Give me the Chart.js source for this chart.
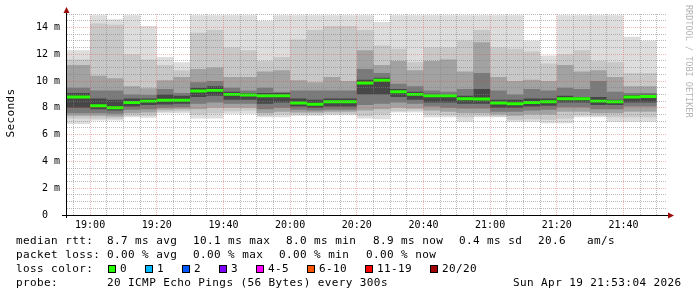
<!DOCTYPE html>
<html>
<head>
<meta charset="utf-8">
<script src="https://cdn.jsdelivr.net/npm/chart.js@4.4.1/dist/chart.umd.min.js"></script>
<style>
  html, body { margin: 0; padding: 0; background: #fff; }
  #wrap { width: 697px; height: 297px; }
</style>
</head>
<body>
<div id="wrap"><canvas id="smokeChart" width="697" height="297"></canvas></div>
<script>
// Graph time window
const graphStart = '18:53:04';
const graphEnd = '21:53:04';

// End time of each 5 minute bin (the first bin reaches back to the left edge)
const binEnds = [
  '19:00', '19:05', '19:10', '19:15', '19:20', '19:25', '19:30', '19:35', '19:40',
  '19:45', '19:50', '19:55', '20:00', '20:05', '20:10', '20:15', '20:20', '20:25',
  '20:30', '20:35', '20:40', '20:45', '20:50', '20:55', '21:00', '21:05', '21:10',
  '21:15', '21:20', '21:25', '21:30', '21:35', '21:40', '21:45', '21:50'
];

// Axis tick labels
const timeTicks = ['19:00', '19:20', '19:40', '20:00', '20:20', '20:40', '21:00', '21:20', '21:40'];
const yTickValues = [0, 2, 4, 6, 8, 10, 12, 14];
const yTickLabels = ['0  ', '2 m', '4 m', '6 m', '8 m', '10 m', '12 m', '14 m'];

// Smoke: ping rtt (ms) per bin, sorted pings grouped by rank pairs
const pingMax   = [12.3, 14.9, 14.6, 14.9, 14.1, 11.8, 11.4, 14.9, 14.9, 14.9, 14.9, 14.5, 14.9, 14.9, 14.9, 14.9, 14.9, 14.9, 14.4, 14.9, 14.9, 14.9, 14.9, 14.9, 14.9, 14.9, 14.9, 13.0, 11.9, 14.9, 14.9, 14.9, 14.9, 13.3, 13.0];
const outerHigh = [11.6, 14.3, 14.2, 12.0, 11.6, 11.2, 10.8, 13.6, 13.8, 12.5, 12.3, 11.5, 11.8, 13.1, 13.8, 14.1, 14.1, 13.8, 12.65, 12.4, 11.4, 12.5, 12.5, 13.0, 13.8, 12.5, 12.4, 12.2, 11.3, 12.0, 12.3, 11.5, 11.4, 10.6, 10.6];
const midHigh   = [11.2, 10.4, 10.2, 9.6, 9.45, 10.05, 10.3, 10.9, 11.0, 10.3, 10.3, 10.7, 10.8, 10.05, 9.9, 10.3, 10.0, 12.3, 11.2, 11.5, 10.8, 11.5, 11.6, 10.7, 12.9, 10.3, 10.0, 10.1, 10.0, 11.2, 10.7, 10.8, 10.3, 9.6, 9.6];
const innerHigh = [9.5, 9.3, 9.3, 9.0, 8.95, 9.4, 9.1, 9.9, 10.0, 9.5, 9.3, 9.5, 9.2, 9.3, 9.3, 9.3, 9.3, 10.9, 10.6, 9.8, 9.6, 9.3, 9.2, 9.4, 10.6, 9.3, 9.0, 9.4, 9.3, 9.5, 9.4, 10.0, 9.2, 9.1, 9.1];
const coreHigh  = [9.1, 8.7, 8.6, 8.7, 8.7, 9.0, 8.9, 9.5, 9.6, 9.2, 9.1, 9.1, 9.1, 8.7, 8.6, 8.7, 8.7, 10.1, 10.25, 9.4, 9.2, 9.05, 9.0, 8.9, 9.4, 8.6, 8.6, 8.7, 8.7, 8.9, 8.8, 8.8, 8.6, 8.95, 9.0];
const medianRtt = [8.8, 8.15, 8.0, 8.4, 8.5, 8.56, 8.56, 9.25, 9.3, 9.0, 8.95, 8.9, 8.9, 8.36, 8.26, 8.45, 8.45, 9.85, 10.05, 9.2, 9.0, 8.9, 8.9, 8.68, 8.66, 8.36, 8.3, 8.4, 8.45, 8.68, 8.68, 8.5, 8.45, 8.8, 8.85];
const coreLow   = [8.0, 7.9, 7.8, 8.1, 8.2, 8.25, 8.3, 8.8, 8.9, 8.6, 8.6, 8.3, 8.4, 8.1, 8.0, 8.1, 8.1, 9.0, 9.0, 8.8, 8.6, 8.4, 8.4, 8.3, 8.3, 8.0, 8.0, 8.1, 8.15, 8.4, 8.4, 8.2, 8.2, 8.4, 8.4];
const innerLow  = [7.6, 7.6, 7.55, 7.85, 7.9, 8.0, 8.05, 8.3, 8.4, 8.3, 8.3, 7.9, 8.0, 7.85, 7.8, 7.85, 7.85, 8.2, 8.3, 8.4, 8.3, 8.1, 8.0, 7.95, 7.95, 7.7, 7.7, 7.8, 7.85, 8.05, 8.05, 7.9, 7.9, 8.1, 8.1];
const midLow    = [7.4, 7.4, 7.35, 7.6, 7.65, 7.85, 7.9, 7.9, 8.0, 8.0, 8.0, 7.6, 7.7, 7.65, 7.65, 7.7, 7.7, 7.8, 7.9, 8.0, 7.95, 7.8, 7.7, 7.6, 7.6, 7.5, 7.4, 7.5, 7.5, 7.7, 7.7, 7.6, 7.6, 7.7, 7.7];
const outerLow  = [7.2, 7.2, 7.2, 7.4, 7.4, 7.7, 7.75, 7.5, 7.6, 7.75, 7.8, 7.4, 7.5, 7.5, 7.5, 7.55, 7.55, 7.4, 7.5, 7.75, 7.8, 7.5, 7.45, 7.3, 7.4, 7.35, 7.1, 7.15, 7.1, 7.2, 7.45, 7.4, 7.3, 7.3, 7.3];
const pingMin   = [6.8, 7.05, 7.05, 7.3, 7.25, 7.6, 7.6, 7.2, 7.2, 7.55, 7.55, 7.3, 7.3, 7.4, 7.4, 7.45, 7.45, 7.2, 7.15, 7.65, 7.65, 7.3, 7.3, 6.95, 7.3, 7.3, 6.95, 6.95, 6.85, 6.85, 7.3, 7.3, 6.95, 6.95, 6.95];

// Legend content
const statsRtt = ['8.7 ms avg', '10.1 ms max', '8.0 ms min', '8.9 ms now', '0.4 ms sd', '20.6', 'am/s'];
const statsLoss = ['0.00 % avg', '0.00 % max', '0.00 % min', '0.00 % now'];
const lossLabels = ['0', '1', '2', '3', '4-5', '6-10', '11-19', '20/20'];
const lossColors = ['#26ff00', '#00b8ff', '#0059ff', '#7e00ff', '#ff00ff', '#ff5500', '#ff0000', '#a10000'];
const probeText = '20 ICMP Echo Pings (56 Bytes) every 300s';
const stampText = 'Sun Apr 19 21:53:04 2026';

// Styling
const MONO = "'DejaVu Sans Mono', monospace";
const GRID = 'rgba(130,130,130,0.55)';
const MGRID = 'rgba(225,70,70,0.38)';
const ARROW = '#9c0a0a';
const MED_HALF = 0.11; // half thickness of the median bar, in ms

const toMin = (t) => {
  const p = t.split(':').map(Number);
  return p[0] * 60 + p[1] + (p[2] || 0) / 60;
};
const X_MIN = toMin(graphStart);
const X_MAX = toMin(graphEnd);
const majorX = timeTicks.map(toMin);

// grid every 5 minutes, every half ms
const xGrid = [];
for (let m = Math.ceil(X_MIN / 5) * 5; m <= X_MAX; m += 5) xGrid.push(m);
const yGrid = [];
for (let v = 0; v <= 15; v += 0.5) yGrid.push(v);

const stepData = (values) => {
  const pts = [{ x: X_MIN, y: values[0] }];
  values.forEach((v, i) => pts.push({ x: toMin(binEnds[i]), y: v }));
  return pts;
};

const bands = [
  [pingMin, pingMax, '#dddddd'],
  [outerLow, outerHigh, '#c8c8c8'],
  [midLow, midHigh, '#a2a2a2'],
  [innerLow, innerHigh, '#7a7a7a'],
  [coreLow, coreHigh, '#474747'],
  [medianRtt.map(v => v - MED_HALF), medianRtt.map(v => v + MED_HALF), '#26ff00']
];

const datasets = [];
bands.forEach(([lo, hi, color], j) => {
  const base = {
    stepped: 'after',
    pointRadius: 0,
    borderWidth: 0,
    borderColor: 'rgba(0,0,0,0)',
    order: 100 - j
  };
  datasets.push({ ...base, data: stepData(lo), fill: false });
  datasets.push({ ...base, data: stepData(hi), fill: 2 * j, backgroundColor: color });
});

// Axes, arrows, legend and side texts
const decorPlugin = {
  id: 'decor',
  afterDraw(chart) {
    const { ctx, chartArea: a } = chart;
    ctx.save();
    // axis lines
    ctx.strokeStyle = '#000';
    ctx.lineWidth = 1;
    ctx.beginPath();
    ctx.moveTo(62, a.bottom + 0.5);
    ctx.lineTo(a.right + 1, a.bottom + 0.5);
    ctx.moveTo(a.left - 0.5, a.bottom + 3);
    ctx.lineTo(a.left - 0.5, a.top - 1);
    ctx.stroke();
    // arrows
    ctx.fillStyle = ARROW;
    ctx.beginPath();
    ctx.moveTo(a.right + 1, a.bottom - 2.5);
    ctx.lineTo(a.right + 7, a.bottom + 0.5);
    ctx.lineTo(a.right + 1, a.bottom + 3.5);
    ctx.fill();
    ctx.beginPath();
    ctx.moveTo(a.left - 3.5, a.top - 1);
    ctx.lineTo(a.left - 0.5, a.top - 7);
    ctx.lineTo(a.left + 2.5, a.top - 1);
    ctx.fill();

    // y title
    ctx.fillStyle = '#000';
    ctx.font = '11px ' + MONO;
    ctx.letterSpacing = '0.4px';
    ctx.textBaseline = 'middle';
    ctx.textAlign = 'center';
    ctx.save();
    ctx.translate(11, 113);
    ctx.rotate(-Math.PI / 2);
    ctx.fillText('Seconds', 0, 0);
    ctx.restore();

    // watermark
    ctx.save();
    ctx.fillStyle = '#b4b4b4';
    ctx.font = '8.5px ' + MONO;
    ctx.letterSpacing = '0px';
    ctx.textAlign = 'left';
    ctx.translate(688, 5);
    ctx.rotate(Math.PI / 2);
    ctx.fillText('RRDTOOL / TOBI OETIKER', 0, 0);
    ctx.restore();

    // legend
    ctx.textAlign = 'left';
    const rows = [241, 255, 269, 283];
    ctx.fillText('median rtt:', 16, rows[0]);
    [107, 193, 286, 373, 459, 538, 587].forEach((x, i) => ctx.fillText(statsRtt[i], x, rows[0]));
    ctx.fillText('packet loss:', 16, rows[1]);
    [107, 193, 279, 366].forEach((x, i) => ctx.fillText(statsLoss[i], x, rows[1]));
    ctx.fillText('loss color:', 16, rows[2]);
    const boxX = [108, 145, 182, 219, 256, 307, 365, 430];
    boxX.forEach((x, i) => {
      ctx.fillStyle = lossColors[i];
      ctx.fillRect(x, rows[2] - 4, 8, 8);
      ctx.strokeStyle = '#000';
      ctx.strokeRect(x + 0.5, rows[2] - 3.5, 7, 7);
      ctx.fillStyle = '#000';
      ctx.fillText(lossLabels[i], x + 12, rows[2]);
    });
    ctx.fillText('probe:', 16, rows[3]);
    ctx.fillText(probeText, 107, rows[3]);
    ctx.fillText(stampText, 513, rows[3]);
    ctx.restore();
  }
};

new Chart(document.getElementById('smokeChart'), {
  type: 'line',
  data: { datasets },
  options: {
    responsive: false,
    animation: false,
    devicePixelRatio: 1,
    layout: { padding: { top: 14, right: 30, left: 0, bottom: 0 } },
    plugins: { legend: { display: false }, tooltip: { enabled: false } },
    scales: {
      x: {
        type: 'linear',
        min: X_MIN,
        max: X_MAX,
        afterBuildTicks: (axis) => { axis.ticks = xGrid.map(v => ({ value: v })); },
        afterFit: (s) => { s.height = 82; },
        grid: {
          z: 1,
          drawTicks: false,
          lineWidth: 1,
          color: (c) => (c.tick && majorX.some(m => Math.abs(m - c.tick.value) < 0.01)) ? MGRID : GRID,
          borderDash: [1, 1]
        },
        border: { display: false, dash: [1, 1] },
        ticks: {
          autoSkip: false,
          maxRotation: 0,
          padding: 4,
          color: '#000',
          font: { family: MONO, size: 10 },
          callback: (v) => {
            const i = majorX.findIndex(m => Math.abs(m - v) < 0.01);
            return i >= 0 ? timeTicks[i] : '';
          }
        }
      },
      y: {
        min: 0,
        max: 15,
        afterBuildTicks: (axis) => { axis.ticks = yGrid.map(v => ({ value: v })); },
        afterFit: (s) => { s.width = 67; },
        grid: {
          z: 1,
          drawTicks: false,
          lineWidth: 1,
          color: (c) => (c.tick && yTickValues.includes(c.tick.value)) ? MGRID : GRID,
          borderDash: [1, 1]
        },
        border: { display: false, dash: [1, 1] },
        ticks: {
          autoSkip: false,
          padding: 7,
          color: '#000',
          font: { family: MONO, size: 10 },
          callback: (v) => {
            const i = yTickValues.indexOf(v);
            return i >= 0 ? yTickLabels[i] : '';
          }
        }
      }
    }
  },
  plugins: [decorPlugin]
});
</script>
</body>
</html>
